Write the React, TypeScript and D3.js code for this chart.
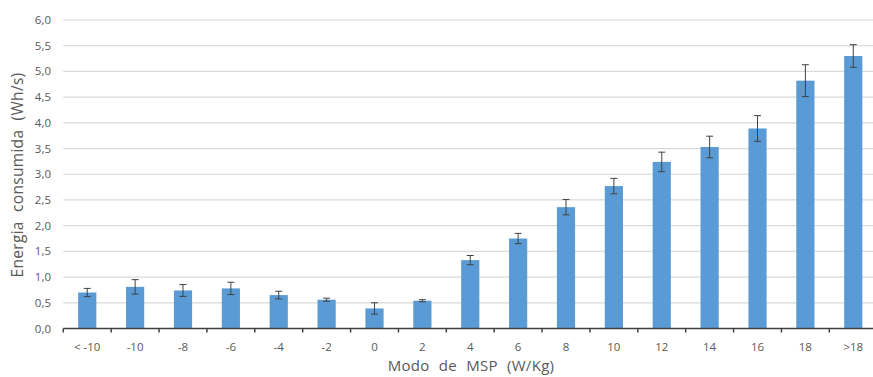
import React from "react";
import * as d3 from "d3";

const categories = ["< -10", "-10", "-8", "-6", "-4", "-2", "0", "2", "4", "6", "8", "10", "12", "14", "16", "18", ">18"];
const energy = [0.70, 0.81, 0.74, 0.78, 0.65, 0.56, 0.39, 0.54, 1.33, 1.75, 2.36, 2.77, 3.24, 3.53, 3.89, 4.82, 5.30];
const errors = [0.08, 0.14, 0.115, 0.12, 0.075, 0.03, 0.11, 0.02, 0.09, 0.10, 0.15, 0.15, 0.19, 0.21, 0.25, 0.31, 0.22];
const yTicks = [0, 0.5, 1, 1.5, 2, 2.5, 3, 3.5, 4, 4.5, 5, 5.5, 6];

const W = 873;
const H = 377;
const left = 63.3;
const right = 877.2;
const top = 20;
const bottom = 328.5;

const fmt = (v: number) => d3.format(".1f")(v).replace(".", ",");

export default function App() {
  const x = d3.scaleBand<string>().domain(categories).range([left, right]).paddingInner(0.62).paddingOuter(0.31);
  const y = d3.scaleLinear().domain([0, 6]).range([bottom, top]);
  const step = x.step();
  const textColor = "#595959";
  const font = "'Open Sans', 'DejaVu Sans', sans-serif";

  return (
    <svg width={W} height={H} style={{ position: "absolute", left: 0, top: 0, background: "#fff" }}>
      <rect width={W} height={H} fill="#fff" />
      {yTicks.map((t) => (
        <g key={t}>
          {t > 0 && <line x1={left} x2={W} y1={y(t)} y2={y(t)} stroke="#d9d9d9" strokeWidth={1.2} />}
          <text x={51} y={y(t)} dy="0.35em" textAnchor="end" fontSize={11.5} fill={textColor} fontFamily={font}>
            {fmt(t)}
          </text>
        </g>
      ))}
      {categories.map((c, i) => {
        const bx = x(c) as number;
        const cx = bx + x.bandwidth() / 2;
        const v = energy[i];
        const e = errors[i];
        return (
          <g key={c}>
            <rect x={bx} y={y(v)} width={x.bandwidth()} height={y(0) - y(v)} fill="#5b9bd5" />
            <line x1={cx} x2={cx} y1={y(v + e)} y2={y(v - e)} stroke="#404040" strokeWidth={1} />
            <line x1={cx - 3.5} x2={cx + 3.5} y1={y(v + e)} y2={y(v + e)} stroke="#404040" strokeWidth={1} />
            <line x1={cx - 3.5} x2={cx + 3.5} y1={y(v - e)} y2={y(v - e)} stroke="#404040" strokeWidth={1} />
            <text x={cx} y={346.5} dy="0.35em" textAnchor="middle" fontSize={11.5} fill={textColor} fontFamily={font}>
              {c}
            </text>
          </g>
        );
      })}
      <line x1={left} x2={W} y1={bottom} y2={bottom} stroke="#404040" strokeWidth={1.5} />
      {d3.range(categories.length + 1).map((i) => (
        <line key={i} x1={left + i * step} x2={left + i * step} y1={bottom} y2={bottom + 4} stroke="#404040" strokeWidth={1.5} />
      ))}
      <text
        transform={`translate(18,175) rotate(-90)`}
        textAnchor="middle"
        dy="0.35em"
        fontSize={15.5}
        fill={textColor}
        fontFamily={font}
        wordSpacing={5}
        letterSpacing={0.3}
      >
        Energia consumida (Wh/s)
      </text>
      <text x={471} y={371} textAnchor="middle" fontSize={15} fill={textColor} fontFamily={font} wordSpacing={5} letterSpacing={0.3}>
        Modo de MSP (W/Kg)
      </text>
    </svg>
  );
}
